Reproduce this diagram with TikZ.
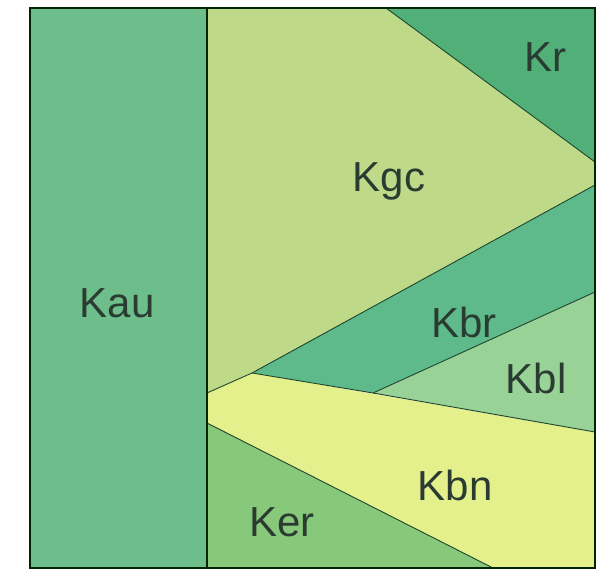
\documentclass[tikz,border=0pt]{standalone}
\usepackage{fontspec}
\setmainfont{Liberation Sans}
\definecolor{cKau}{RGB}{110,190,140}
\definecolor{cKgc}{RGB}{190,218,136}
\definecolor{cKr}{RGB}{80,176,120}
\definecolor{cKbr}{RGB}{94,186,138}
\definecolor{cKbl}{RGB}{152,210,150}
\definecolor{cKbn}{RGB}{228,240,140}
\definecolor{cKer}{RGB}{136,200,122}
\definecolor{cLine}{RGB}{30,70,45}
\definecolor{cText}{RGB}{42,60,50}
\begin{document}
\begin{tikzpicture}[x=1pt,y=-1pt,
  unit/.style={draw=cLine,line width=0.9pt,line join=round},
  lbl/.style={text=cText,font=\fontsize{42}{42}\selectfont,inner sep=0pt}]
\useasboundingbox (0,0) rectangle (608,572);
\fill[white] (0,0) rectangle (608,572);
% corner points
\coordinate (TL) at (30,8);
\coordinate (TR) at (595,8);
\coordinate (BL) at (30,568);
\coordinate (BR) at (595,568);
\coordinate (VT) at (207,8);
\coordinate (VB) at (207,568);
\coordinate (KrT) at (386,8);
\coordinate (KrR) at (595,162);
\coordinate (KbrR) at (595,185);
\coordinate (J) at (252,373);
\coordinate (VG) at (207,393);
\coordinate (KblR) at (595,292);
\coordinate (KblJ) at (373,393);
\coordinate (KbnR) at (595,432);
\coordinate (VE) at (207,423);
\coordinate (EB) at (493,568);
% fills
\fill[cKau] (TL) rectangle (VB);
\fill[cKgc] (VT) -- (KrT) -- (KrR) -- (KbrR) -- (J) -- (VG) -- cycle;
\fill[cKr] (KrT) -- (TR) -- (KrR) -- cycle;
\fill[cKbr] (KbrR) -- (KblR) -- (KblJ) -- (J) -- cycle;
\fill[cKbl] (KblR) -- (KbnR) -- (KblJ) -- cycle;
\fill[cKbn] (VG) -- (J) -- (KbnR) -- (BR) -- (EB) -- (VE) -- cycle;
\fill[cKer] (VE) -- (EB) -- (VB) -- cycle;
% boundaries
\draw[unit] (KrT) -- (KrR);
\draw[unit] (KbrR) -- (J) -- (VG);
\draw[unit] (J) -- (KblJ) -- (KbnR);
\draw[unit] (KblJ) -- (KblR);
\draw[unit] (VE) -- (EB);
\draw[draw=black!85!green,line width=1.5pt] (VT) -- (VB);
\draw[draw=black!85!green,line width=1.6pt] (TL) rectangle (BR);
% labels
\node[lbl] (Kau) at (117,303) {Kau};
\node[lbl] (Kgc) at (389,181) {Kgc};
\node[lbl] (Kr) at (545,57) {Kr};
\node[lbl] (Kbr) at (464,322) {Kbr};
\node[lbl] (Kbl) at (536,378) {Kbl};
\node[lbl] (Kbn) at (455,485) {Kbn};
\node[lbl] (Ker) at (282,522) {Ker};
\end{tikzpicture}
\end{document}
